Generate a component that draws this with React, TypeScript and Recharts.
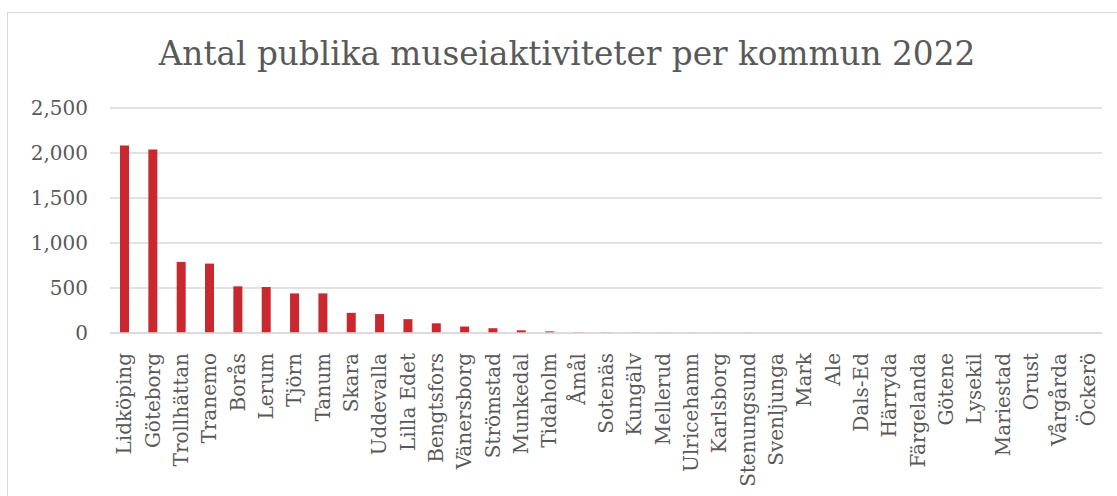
import { BarChart, Bar, XAxis, YAxis, CartesianGrid } from 'recharts'

const kommuner = [
  'Lidköping', 'Göteborg', 'Trollhättan', 'Tranemo', 'Borås', 'Lerum', 'Tjörn', 'Tanum',
  'Skara', 'Uddevalla', 'Lilla Edet', 'Bengtsfors', 'Vänersborg', 'Strömstad', 'Munkedal',
  'Tidaholm', 'Åmål', 'Sotenäs', 'Kungälv', 'Mellerud', 'Ulricehamn', 'Karlsborg',
  'Stenungsund', 'Svenljunga', 'Mark', 'Ale', 'Dals-Ed', 'Härryda', 'Färgelanda', 'Götene',
  'Lysekil', 'Mariestad', 'Orust', 'Vårgårda', 'Öckerö',
]

const aktiviteter = [
  2083, 2038, 790, 771, 519, 511, 440, 440,
  224, 210, 154, 108, 72, 53, 30,
  18, 6, 4, 3, 2, 2, 1,
  1, 0, 0, 0, 0, 0, 0, 0,
  0, 0, 0, 0, 0,
]

const yTicks = [0, 500, 1000, 1500, 2000, 2500]

const data = kommuner.map((k, i) => ({ kommun: k, antal: aktiviteter[i] }))

const FONT = '"DejaVu Serif", serif'
const TEXT = '#595959'

function KommunTick({ x, y, payload }: any) {
  return (
    <text
      x={x}
      y={y + 12}
      transform={`rotate(-90, ${x}, ${y + 12})`}
      textAnchor="end"
      dominantBaseline="central"
      fontFamily={FONT}
      fontSize={20}
      fill={TEXT}
    >
      {payload.value}
    </text>
  )
}

export default function App() {
  return (
    <div style={{ position: 'absolute', left: 0, top: 0, width: 1117, height: 496, background: '#fff', overflow: 'hidden' }}>
      <div style={{ position: 'absolute', left: 7, top: 12, width: 1200, height: 600, border: '1px solid #d9d9d9' }} />
      <div
        style={{
          position: 'absolute', left: 0, width: 1134, top: 34, textAlign: 'center',
          fontFamily: FONT, fontSize: 32.7, color: TEXT, lineHeight: '40px',
        }}
      >
        Antal publika museiaktiviteter per kommun 2022
      </div>
      <div style={{ position: 'absolute', left: 0, top: 0 }}>
        <BarChart width={1117} height={496} data={data} margin={{ top: 108, right: 15, bottom: 0, left: 10 }}>
          <CartesianGrid vertical={false} stroke="#d9d9d9" strokeWidth={1.5} />
          <XAxis
            dataKey="kommun"
            interval={0}
            tickLine={false}
            axisLine={{ stroke: '#d9d9d9', strokeWidth: 1.5 }}
            height={163}
            tick={<KommunTick />}
          />
          <YAxis
            domain={[0, 2500]}
            ticks={yTicks}
            width={100}
            axisLine={false}
            tickLine={false}
            tickMargin={16}
            tickFormatter={(v) => v.toLocaleString('en-US')}
            tick={{ fontFamily: FONT, fontSize: 20, fill: TEXT }}
          />
          <Bar dataKey="antal" fill="#c8282e" barSize={9} isAnimationActive={false} />
        </BarChart>
      </div>
    </div>
  )
}
